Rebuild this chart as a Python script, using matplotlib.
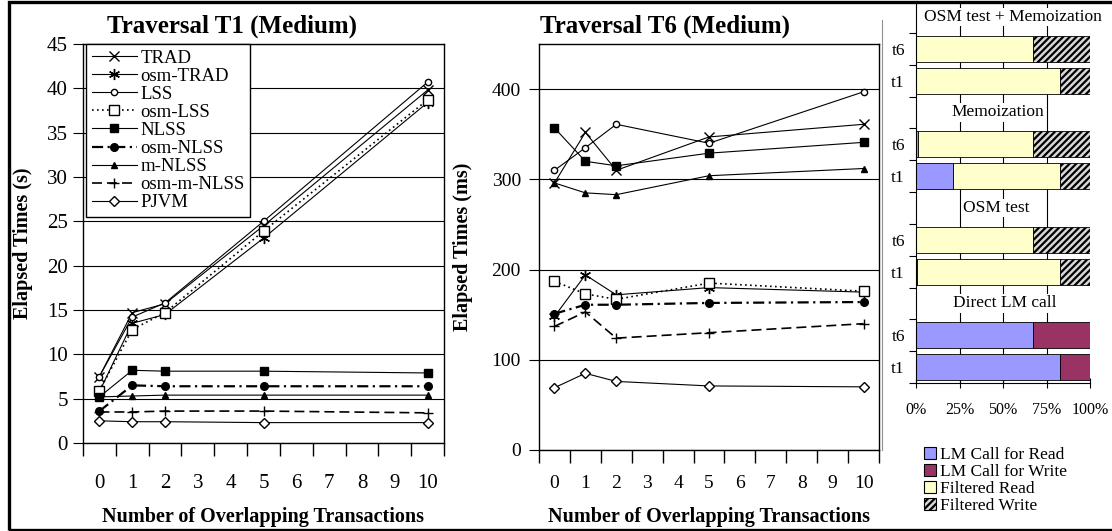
import numpy as np
import matplotlib
matplotlib.use('Agg')
import matplotlib.pyplot as plt
from matplotlib.patches import Patch, Rectangle
from matplotlib.lines import Line2D

plt.rcParams['font.family'] = ['Liberation Serif', 'DejaVu Serif']
plt.rcParams['hatch.linewidth'] = 1.6

W, H = 1112, 531

# number of overlapping transactions (category positions)
x_trans = [0, 1, 2, 5, 10]
series = ['TRAD', 'osm-TRAD', 'LSS', 'osm-LSS', 'NLSS', 'osm-NLSS',
          'm-NLSS', 'osm-m-NLSS', 'PJVM']

# Traversal T1, elapsed times in seconds
t1_trad = [7.5, 14.7, 15.7, 24.5, 39.8]
t1_osm_trad = [5.8, 13.5, 14.5, 23.1, 38.4]
t1_lss = [7.5, 14.2, 15.8, 25.0, 40.7]
t1_osm_lss = [5.9, 12.8, 14.7, 23.9, 38.7]
t1_nlss = [5.2, 8.2, 8.1, 8.1, 7.9]
t1_osm_nlss = [3.6, 6.5, 6.4, 6.4, 6.4]
t1_m_nlss = [5.2, 5.3, 5.4, 5.4, 5.4]
t1_osm_m_nlss = [3.5, 3.5, 3.6, 3.6, 3.4]
t1_pjvm = [2.5, 2.4, 2.4, 2.3, 2.3]

# Traversal T6, elapsed times in milliseconds
t6_trad = [296, 352, 310, 347, 361]
t6_osm_trad = [148, 194, 172, 180, 175]
t6_lss = [310, 335, 361, 340, 397]
t6_osm_lss = [187, 173, 167, 185, 176]
t6_nlss = [357, 320, 315, 329, 341]
t6_osm_nlss = [151, 161, 161, 163, 164]
t6_m_nlss = [296, 285, 283, 304, 312]
t6_osm_m_nlss = [137, 153, 124, 130, 140]
t6_pjvm = [69, 85, 76, 71, 70]

t1_data = [t1_trad, t1_osm_trad, t1_lss, t1_osm_lss, t1_nlss, t1_osm_nlss,
           t1_m_nlss, t1_osm_m_nlss, t1_pjvm]
t6_data = [t6_trad, t6_osm_trad, t6_lss, t6_osm_lss, t6_nlss, t6_osm_nlss,
           t6_m_nlss, t6_osm_m_nlss, t6_pjvm]

# breakdown of lock manager calls (percent), bottom row first
bar_rows = ['t1', 't6', '', 't1', 't6', '', 't1', 't6', '', 't1', 't6', '']
lm_read = [82.5, 67, 0, 0.7, 0, 0, 21, 1, 0, 0, 0, 0]
lm_write = [17.5, 33, 0, 0, 0, 0, 0, 0, 0, 0, 0, 0]
filt_read = [0, 0, 0, 81.8, 67, 0, 61.5, 66, 0, 82.5, 67, 0]
filt_write = [0, 0, 0, 17.5, 33, 0, 17.5, 33, 0, 17.5, 33, 0]
group_names = ['Direct LM call', 'OSM test', 'Memoization', 'OSM test + Memoization']
group_rows = [2, 5, 8, 11]
group_x = [0.51, 0.46, 0.47, 0.557]

styles = {
    'TRAD': dict(marker='x', ms=7, ls='-', lw=0.8, mfc='none'),
    'osm-TRAD': dict(marker=(6, 2, 0), ms=8, ls='-', lw=0.8, mfc='none'),
    'LSS': dict(marker='o', ms=4.5, ls='-', lw=0.8, mfc='white'),
    'osm-LSS': dict(marker='s', ms=7, ls=(0, (1, 2)), lw=1.2, mfc='white'),
    'NLSS': dict(marker='s', ms=6, ls='-', lw=0.8, mfc='black'),
    'osm-NLSS': dict(marker='o', ms=5.5, ls=(0, (5, 2, 1, 2)), lw=1.6, mfc='black'),
    'm-NLSS': dict(marker='^', ms=5, ls='-', lw=0.8, mfc='black'),
    'osm-m-NLSS': dict(marker='+', ms=7, ls=(0, (6, 3)), lw=1.2, mfc='none'),
    'PJVM': dict(marker='D', ms=5.5, ls='-', lw=0.8, mfc='white'),
}


def box(x0, y0, x1, y1):
    return [x0 / W, 1 - y1 / H, (x1 - x0) / W, (y1 - y0) / H]


def category_axis(ax, size, pad):
    ax.set_xlim(-0.5, 10.5)
    ax.set_xticks(np.arange(-0.5, 11, 1))
    ax.set_xticklabels([])
    ax.set_xticks(range(11), minor=True)
    ax.set_xticklabels([str(i) for i in range(11)], minor=True)
    ax.tick_params(axis='x', which='major', direction='out', length=9, width=1)
    ax.tick_params(axis='x', which='minor', length=0, labelsize=size, pad=pad)
    ax.yaxis.grid(True, color='black', lw=0.8)
    ax.set_axisbelow(True)
    for s in ax.spines.values():
        s.set_linewidth(1)


fig = plt.figure(figsize=(W / 100, H / 100), dpi=100)

# ---- T1 ----
ax1 = fig.add_axes(box(83, 44, 444, 443))
for name, vals in zip(series, t1_data):
    ax1.plot(x_trans, vals, color='black', mec='black', label=name, **styles[name])
category_axis(ax1, 15, 22)
ax1.set_ylim(0, 45)
ax1.set_yticks(range(0, 46, 5))
ax1.tick_params(axis='y', direction='out', length=7, labelsize=15, pad=4)
ax1.set_xlabel('Number of Overlapping Transactions', fontsize=14.5, fontweight='bold')
ax1.set_ylabel('Elapsed Times (s)', fontsize=14.5, fontweight='bold')
ax1.xaxis.set_label_coords(0.5, -0.16)
ax1.yaxis.set_label_coords(-0.138, 0.5)
leg = ax1.legend(loc='upper left', bbox_to_anchor=(0.008, 1.0), borderaxespad=0,
                 fancybox=False, edgecolor='black', fontsize=13.5, labelspacing=0.05,
                 handlelength=2.4, handletextpad=0.2, borderpad=0.3, framealpha=1)
leg.get_frame().set_linewidth(1)
fig.text(232 / W, 1 - 26 / H, 'Traversal T1 (Medium)', ha='center', va='center',
         fontsize=18, fontweight='bold')

# ---- T6 ----
ax2 = fig.add_axes(box(539, 44, 879, 450))
for name, vals in zip(series, t6_data):
    ax2.plot(x_trans, vals, color='black', mec='black', **styles[name])
category_axis(ax2, 14, 18)
ax2.set_ylim(0, 450)
ax2.set_yticks(range(0, 401, 100))
ax2.tick_params(axis='y', direction='out', length=7, labelsize=14, pad=6)
ax2.set_xlabel('Number of Overlapping Transactions', fontsize=14.5, fontweight='bold')
ax2.set_ylabel('Elapsed Times (ms)', fontsize=14.5, fontweight='bold')
ax2.xaxis.set_label_coords(0.5, -0.14)
ax2.yaxis.set_label_coords(-0.194, 0.5)
fig.text(665 / W, 1 - 26 / H, 'Traversal T6 (Medium)', ha='center', va='center',
         fontsize=18, fontweight='bold')

# ---- breakdown bars ----
ax3 = fig.add_axes(box(916, 1, 1090, 383))
rows = np.arange(len(bar_rows))
parts = [(lm_read, '#9999FF', None, 'LM Call for Read'),
         (lm_write, '#993366', None, 'LM Call for Write'),
         (filt_read, '#FFFFCC', None, 'Filtered Read'),
         (filt_write, '#d8d8d8', '/////', 'Filtered Write')]
left = np.zeros(len(bar_rows))
handles = []
for vals, col, hatch, lab in parts:
    v = np.array(vals) / 100.0
    ax3.barh(rows, v, left=left, height=0.82, color=col, edgecolor='black',
             lw=0.6, hatch=hatch, zorder=2)
    left += v
    handles.append(Patch(facecolor=col, edgecolor='black', lw=0.8, hatch=hatch, label=lab))
for xg in [0.25, 0.5, 0.75]:
    ax3.axvline(xg, color='black', lw=0.8, zorder=0)
for name, r, gx in zip(group_names, group_rows, group_x):
    ax3.text(gx, r, name, ha='center', va='center', fontsize=12.5, zorder=3,
             bbox=dict(facecolor='white', edgecolor='none', pad=1))
ax3.set_xlim(0, 1)
ax3.set_ylim(-0.5, 11.5)
ax3.set_xticks([0, 0.25, 0.5, 0.75, 1])
ax3.set_xticklabels(['0%', '25%', '50%', '75%', '100%'])
ax3.tick_params(axis='x', direction='inout', length=7, labelsize=11.5, pad=10)
ax3.set_yticks(np.arange(-0.5, 11, 1))
ax3.set_yticklabels([])
ax3.set_yticks(rows, minor=True)
ax3.set_yticklabels(bar_rows, minor=True)
ax3.tick_params(axis='y', which='major', direction='out', length=5)
ax3.tick_params(axis='y', which='minor', length=0, labelsize=12.5, pad=8)
ax3.spines['top'].set_visible(False)
ax3.spines['right'].set_visible(False)

fig.legend(handles=handles, loc='upper left', bbox_to_anchor=(924 / W, 1 - 447 / H),
           frameon=False, fontsize=12.5, labelspacing=0.05, handlelength=0.7,
           handleheight=0.7, handletextpad=0.25, borderpad=0, borderaxespad=0)

# figure frame and separator
fig.add_artist(Rectangle((8.8 / W, 1.5 / H), (W + 10) / W, (H - 3) / H, fill=False,
                         edgecolor='black', lw=2.4, transform=fig.transFigure))
fig.add_artist(Line2D([881.5 / W] * 2, [1 - 20 / H, 1 - 450 / H], color='#909090',
                      lw=0.8, transform=fig.transFigure))

fig.savefig('out.png', dpi=100)
